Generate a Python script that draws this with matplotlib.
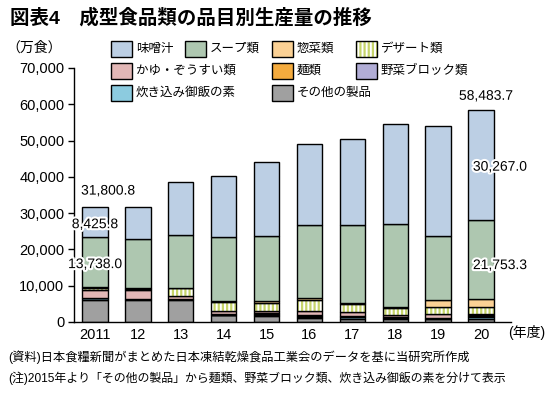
import matplotlib
matplotlib.use("Agg")
import matplotlib.pyplot as plt
import matplotlib.patheffects as pe
from matplotlib.patches import Rectangle
import numpy as np

plt.rcParams['font.family'] = ['Liberation Sans', 'Noto Sans CJK JP']
plt.rcParams['hatch.linewidth'] = 1.6

# data (万食)
years = ['2011', '12', '13', '14', '15', '16', '17', '18', '19', '20']
misoshiru = [8425.8, 8820, 14510, 16930, 20370, 22160, 23825, 27340, 30130, 30267.0]
soup = [13738.0, 13530, 14550, 17450, 18070, 20130, 21580, 23070, 17670, 21753.3]
souzai = [337.0, 350, 250, 300, 400, 550, 300, 200, 2100, 2363.4]
dessert = [450, 250, 2000, 2500, 2300, 3200, 2200, 1950, 1750, 1800]
kayu = [2350, 2550, 800, 900, 550, 1000, 950, 450, 1050, 400]
men = [0, 0, 0, 350, 300, 250, 200, 150, 150, 250]
yasai = [0, 0, 0, 0, 250, 200, 200, 150, 150, 300]
takikomi = [500, 250, 350, 0, 200, 450, 350, 300, 150, 500]
sonota = [6000, 6000, 6100, 1800, 1700, 1000, 950, 850, 750, 850]

#stack order from the bottom up
series = [
    ('その他の製品', sonota, '#a0a0a0'),
    ('炊き込み御飯の素', takikomi, '#8ccbdf'),
    ('野菜ブロック類', yasai, '#b1add6'),
    ('麺類', men, '#f4ab3e'),
    ('かゆ・ぞうすい類', kayu, '#e2b7b6'),
    ('デザート類', dessert, 'stripe'),
    ('惣菜類', souzai, '#fbd195'),
    ('スープ類', soup, '#aec7b0'),
    ('味噌汁', misoshiru, '#bccfe4'),
]
stripe_color = '#c6d46a'

fig = plt.figure(figsize=(5.55, 3.99), dpi=100)
ax = fig.add_axes([0.1333, 0.193, 0.7874, 0.6366])

x = np.arange(len(years))
w = 0.59
bottom = np.zeros(len(years))
for name, vals, col in series:
    vals = np.array(vals, dtype=float)
    if col == 'stripe':
        ax.bar(x, vals, w, bottom=bottom, color='white', edgecolor=stripe_color,
               hatch='||||', linewidth=0)
        ax.bar(x, vals, w, bottom=bottom, fill=False, edgecolor='black', linewidth=1.0)
    else:
        ax.bar(x, vals, w, bottom=bottom, color=col, edgecolor='black', linewidth=1.0)
    bottom += vals

totals = bottom
lower = totals - np.array(misoshiru) - np.array(soup)
soup_top = lower + np.array(soup)

halo = [pe.withStroke(linewidth=3, foreground='white')]
def label(i, y, dx, dy, val):
    ax.annotate(f'{val:,.1f}', xy=(i, y), xytext=(dx, dy), textcoords='offset pixels',
                ha='center', va='center', fontsize=10, path_effects=halo)

label(0, totals[0], 13, 16, 31800.8)
label(0, soup_top[0], 0, 13, misoshiru[0])
label(0, lower[0] + soup[0] / 2, 0, -2, soup[0])
label(9, totals[9], 5, 14, 58483.7)
label(9, soup_top[9] + misoshiru[9] / 2, 19, -2, misoshiru[9])
label(9, lower[9] + soup[9] / 2, 19, -6, soup[9])

ax.set_xlim(-0.49, 9.7)
ax.set_ylim(0, 70000)
ax.set_yticks(range(0, 70001, 10000))
ax.set_yticklabels([f'{v:,}' for v in range(0, 70001, 10000)])
ax.set_xticks(x)
ax.set_xticklabels(years)
ax.tick_params(axis='x', length=0, labelsize=10.5, pad=4)
ax.tick_params(axis='y', length=4, width=1, labelsize=10.5, pad=3)
for s in ['top', 'right']:
    ax.spines[s].set_visible(False)
for s in ['left', 'bottom']:
    ax.spines[s].set_linewidth(1)

# legend laid out like the original (irregular grid)
W, H = 555, 399
col_x = [111, 185, 272, 356]
row_y = [49, 71, 93]
legend_pos = {
    '味噌汁': (0, 0), 'スープ類': (1, 0), '惣菜類': (2, 0), 'デザート類': (3, 0),
    'かゆ・ぞうすい類': (0, 1), '麺類': (2, 1), '野菜ブロック類': (3, 1),
    '炊き込み御飯の素': (0, 2), 'その他の製品': (2, 2),
}
for name, vals, col in series:
    c, r = legend_pos[name]
    px, py = col_x[c], row_y[r]
    rect_kw = dict(transform=fig.transFigure, linewidth=1.0, edgecolor='black')
    if col == 'stripe':
        fig.patches.append(Rectangle((px / W, 1 - (py + 8) / H), 21 / W, 16 / H,
                                     facecolor='white', hatch='||||', transform=fig.transFigure,
                                     edgecolor=stripe_color, linewidth=0))
        fig.patches.append(Rectangle((px / W, 1 - (py + 8) / H), 21 / W, 16 / H,
                                     fill=False, **rect_kw))
    else:
        fig.patches.append(Rectangle((px / W, 1 - (py + 8) / H), 21 / W, 16 / H,
                                     facecolor=col, **rect_kw))
    fig.text((px + 25) / W, 1 - py / H, name, fontsize=9, va='center', ha='left')

fig.text(10 / W, 1 - 18 / H, '図表4　成型食品類の品目別生産量の推移',
         fontsize=14, fontweight='bold', va='center', ha='left')
fig.text(6 / W, 1 - 48 / H, '（万食）', fontsize=10, va='center', ha='left')
fig.text(508 / W, 1 - 333 / H, '(年度)', fontsize=10, va='center', ha='left')
fig.text(8 / W, 1 - 357 / H,
         '(資料)日本食糧新聞がまとめた日本凍結乾燥食品工業会のデータを基に当研究所作成',
         fontsize=8.8, va='center', ha='left')
fig.text(8 / W, 1 - 378 / H,
         '(注)2015年より「その他の製品」から麺類、野菜ブロック類、炊き込み御飯の素を分けて表示',
         fontsize=8.6, va='center', ha='left')

fig.savefig('out.png', dpi=100)
